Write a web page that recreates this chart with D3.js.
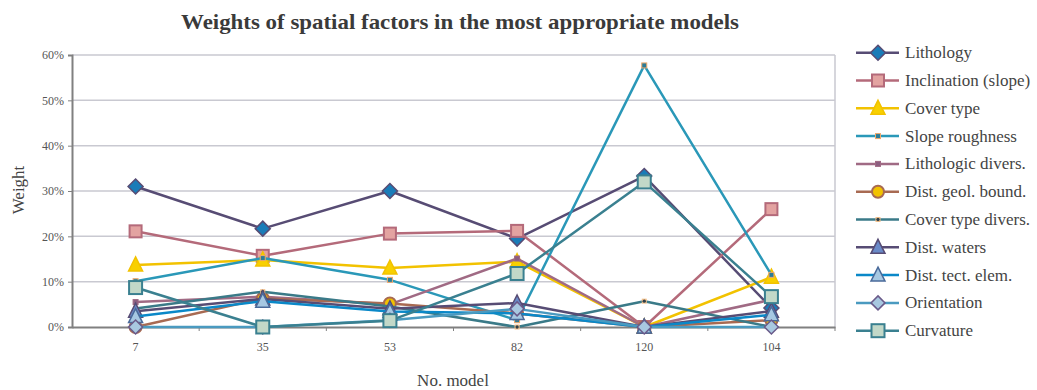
<!DOCTYPE html>
<html>
<head>
<meta charset="utf-8">
<script src="https://cdn.jsdelivr.net/npm/d3@7"></script>
<style>
  html, body { margin: 0; padding: 0; background: #fff; }
  svg { display: block; }
  svg text { font-family: "Liberation Serif", "DejaVu Serif", serif !important; }
</style>
</head>
<body>
<svg id="chart" width="1037" height="390"></svg>
<script>
// Model numbers along the x axis
const models = ["7", "35", "53", "82", "120", "104"];
const yTicks = [0, 0.1, 0.2, 0.3, 0.4, 0.5, 0.6];

// Factor weights per model (fractions)
const lithology        = [0.310, 0.217, 0.300, 0.195, 0.333, 0.042];
const inclination      = [0.211, 0.157, 0.206, 0.212, 0.000, 0.260];
const coverType        = [0.137, 0.148, 0.130, 0.144, 0.000, 0.110];
const slopeRoughness   = [0.101, 0.152, 0.104, 0.015, 0.577, 0.115];
const lithologicDivers = [0.055, 0.067, 0.050, 0.151, 0.000, 0.060];
const distGeolBound    = [0.000, 0.063, 0.052, 0.030, 0.000, 0.015];
const coverTypeDivers  = [0.041, 0.078, 0.045, 0.000, 0.057, 0.000];
const distWaters       = [0.035, 0.062, 0.040, 0.053, 0.000, 0.035];
const distTectElem     = [0.023, 0.057, 0.034, 0.030, 0.000, 0.027];
const orientation      = [0.000, 0.000, 0.015, 0.040, 0.000, 0.000];
const curvature        = [0.087, 0.000, 0.014, 0.118, 0.320, 0.067];

const series = [
  { name: "Lithology",            values: lithology,        line: "#574c74", shape: "diamond",  size: 13, fill: "#1a7cb8", stroke: "#574c74" },
  { name: "Inclination (slope)",  values: inclination,      line: "#b46a7a", shape: "square",   size: 12, fill: "#e3a3a1", stroke: "#b46a7a" },
  { name: "Cover type",           values: coverType,        line: "#f2c200", shape: "triangle", size: 14, fill: "#f8d000", stroke: "#f2c200" },
  { name: "Slope roughness",      values: slopeRoughness,   line: "#2a98b8", shape: "square",   size: 5,  fill: "#2a7c98", stroke: "#f0a86a" },
  { name: "Lithologic divers.",   values: lithologicDivers, line: "#a06a84", shape: "square",   size: 5,  fill: "#8c5e80", stroke: "#a06a84" },
  { name: "Dist. geol. bound.",   values: distGeolBound,    line: "#a86a52", shape: "circle",   size: 12, fill: "#f2c200", stroke: "#a86a52" },
  { name: "Cover type divers.",   values: coverTypeDivers,  line: "#3a7a88", shape: "dot",      size: 5,  fill: "#30404a", stroke: "#f4c08a" },
  { name: "Dist. waters",         values: distWaters,       line: "#574c74", shape: "triangle", size: 14, fill: "#6a8ac8", stroke: "#574c74" },
  { name: "Dist. tect. elem.",    values: distTectElem,     line: "#0a88c8", shape: "triangle", size: 14, fill: "#a6c8e2", stroke: "#4a6a9a" },
  { name: "Orientation",          values: orientation,      line: "#4a9ac0", shape: "diamond",  size: 12, fill: "#a8c8e0", stroke: "#6a5a8a" },
  { name: "Curvature",            values: curvature,        line: "#3a8090", shape: "square",   size: 13, fill: "#c2d8c8", stroke: "#3a8090" }
];

const svg = d3.select("#chart");
const plot = { left: 72, right: 835, top: 55, bottom: 327 };

const x = d3.scaleBand().domain(models).range([plot.left, plot.right]);
const y = d3.scaleLinear().domain([0, 0.6]).range([plot.bottom, plot.top]);
const cx = d => x(d) + x.bandwidth() / 2;

// Title
svg.append("text")
  .attr("x", 460).attr("y", 29)
  .attr("text-anchor", "middle")
  .attr("font-size", 21).attr("font-weight", "bold")
  .attr("textLength", 558).attr("lengthAdjust", "spacingAndGlyphs")
  .attr("fill", "#3a3a3a")
  .text("Weights of spatial factors in the most appropriate models");

// Horizontal gridlines
svg.append("g").selectAll("line")
  .data(yTicks.filter(t => t > 0))
  .join("line")
  .attr("x1", plot.left).attr("x2", plot.right)
  .attr("y1", d => y(d)).attr("y2", d => y(d))
  .attr("stroke", "#c9c9d1").attr("stroke-width", 1.5);

// Right border of the plot area
svg.append("line")
  .attr("x1", plot.right).attr("x2", plot.right)
  .attr("y1", plot.top).attr("y2", plot.bottom)
  .attr("stroke", "#c9c9d1").attr("stroke-width", 1.5);

// Y axis
const yAxis = svg.append("g")
  .attr("transform", `translate(${plot.left},0)`)
  .call(d3.axisLeft(y).tickValues(yTicks).tickFormat(d3.format(".0%")).tickSize(4).tickPadding(4));
yAxis.select(".domain").attr("stroke", "#808080").attr("stroke-width", 2);
yAxis.selectAll(".tick line").attr("stroke", "#808080");
yAxis.selectAll(".tick text").attr("font-size", 12).attr("fill", "#555");

// X axis with ticks on category boundaries
const xAxis = svg.append("g")
  .attr("transform", `translate(0,${plot.bottom})`)
  .call(d3.axisBottom(x).tickSize(0).tickPadding(15));
xAxis.select(".domain").attr("stroke", "#808080").attr("stroke-width", 2);
xAxis.selectAll(".tick text").attr("font-size", 12).attr("fill", "#555");
xAxis.selectAll(".bound")
  .data(models)
  .join("line")
  .attr("class", "bound")
  .attr("x1", d => x(d) + x.bandwidth())
  .attr("x2", d => x(d) + x.bandwidth())
  .attr("y1", 0).attr("y2", 4)
  .attr("stroke", "#808080");

// Axis titles
svg.append("text")
  .attr("transform", "translate(24,190) rotate(-90)")
  .attr("text-anchor", "middle")
  .attr("font-size", 17).attr("fill", "#444")
  .text("Weight");
svg.append("text")
  .attr("x", 453).attr("y", 386)
  .attr("text-anchor", "middle")
  .attr("font-size", 17).attr("fill", "#444")
  .text("No. model");

// Marker shapes
function drawMarker(g, s) {
  const r = s.size / 2;
  if (s.shape === "diamond") {
    g.append("path").attr("d", `M0,${-r - 1}L${r + 1},0L0,${r + 1}L${-r - 1},0Z`)
      .attr("fill", s.fill).attr("stroke", s.stroke).attr("stroke-width", 1.5);
  } else if (s.shape === "square") {
    g.append("rect").attr("x", -r).attr("y", -r).attr("width", s.size).attr("height", s.size)
      .attr("fill", s.fill).attr("stroke", s.stroke).attr("stroke-width", s.size > 6 ? 2 : 1);
  } else if (s.shape === "triangle") {
    g.append("path").attr("d", `M0,${-r - 1}L${r},${r - 1}L${-r},${r - 1}Z`)
      .attr("fill", s.fill).attr("stroke", s.stroke).attr("stroke-width", 1.5);
  } else if (s.shape === "circle") {
    g.append("circle").attr("r", r)
      .attr("fill", s.fill).attr("stroke", s.stroke).attr("stroke-width", 2);
  } else if (s.shape === "dot") {
    g.append("rect").attr("x", -r).attr("y", -r).attr("width", s.size).attr("height", s.size)
      .attr("fill", s.stroke);
    g.append("circle").attr("r", r - 0.8).attr("fill", s.fill);
  }
}

// Series lines and markers
const line = d3.line().x((d, i) => cx(models[i])).y(d => y(d));
const seriesG = svg.append("g");
series.forEach(s => {
  const g = seriesG.append("g");
  g.append("path")
    .attr("d", line(s.values))
    .attr("fill", "none")
    .attr("stroke", s.line)
    .attr("stroke-width", 2.5)
    .attr("stroke-linejoin", "round");
  s.values.forEach((v, i) => {
    const m = g.append("g").attr("transform", `translate(${cx(models[i])},${y(v)})`);
    drawMarker(m, s);
  });
});

// Legend
const legend = svg.append("g");
series.forEach((s, i) => {
  const ly = 52.7 + i * 27.8;
  const item = legend.append("g").attr("transform", `translate(0,${ly})`);
  item.append("line").attr("x1", 856).attr("x2", 899).attr("y1", 0).attr("y2", 0)
    .attr("stroke", s.line).attr("stroke-width", 2.5);
  drawMarker(item.append("g").attr("transform", "translate(878,0)"), s);
  item.append("text").attr("x", 905).attr("y", 5.5)
    .attr("font-size", 17).attr("fill", "#444")
    .text(s.name);
});
</script>
</body>
</html>
